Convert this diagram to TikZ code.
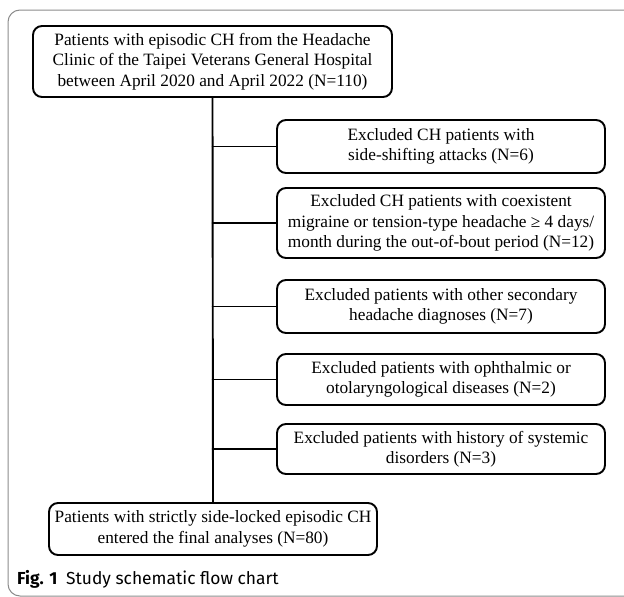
\documentclass[tikz,border=0pt]{standalone}
\usepackage{fontspec}
\setmainfont{Liberation Serif}
\newfontfamily\capfont{Fira Sans}
\usetikzlibrary{positioning}

\begin{document}
\begin{tikzpicture}[x=1pt, y=-1pt, line cap=round, line join=round,
    box/.style={draw, line width=1.9pt, rounded corners=9pt, align=center,
      inner sep=0pt, font=\fontsize{17.3}{20.5}\selectfont},
    link/.style={line width=1.9pt}]
  \useasboundingbox (0,0) rectangle (624,597);
  % outer figure frame
  \draw[black!45, line width=1pt, rounded corners=12pt] (8,10) rectangle (700,596);

  \node[box, minimum width=359pt, minimum height=71pt] (top) at (212.5,61.5)
    {Patients with episodic CH from the Headache\\Clinic of the Taipei Veterans General Hospital\\between April 2020 and April 2022 (N=110)};

  % Excluded boxes: centre y, height, label
  \def\exy#1{\ifcase#1 0\or 146.5\or 223\or 306.5\or 379.5\or 449\fi}
  \def\exh#1{\ifcase#1 0\or 53\or 70\or 53\or 51\or 50\fi}
  \def\exlabel#1{\ifcase#1 \or Excluded CH patients with\\side-shifting attacks (N=6)%
    \or Excluded CH patients with coexistent\\migraine or tension-type headache ≥ 4 days/\\month during the out-of-bout period (N=12)%
    \or Excluded patients with other secondary\\headache diagnoses (N=7)%
    \or Excluded patients with ophthalmic or\\otolaryngological diseases (N=2)%
    \or Excluded patients with history of systemic\\disorders (N=3)\fi}

  \foreach \i in {1,...,5}{
    \pgfmathsetmacro{\yy}{\exy{\i}}
    \pgfmathsetmacro{\hh}{\exh{\i}}
    \node[box, minimum width=328pt, minimum height=\hh pt] (ex\i) at (441,\yy) {\exlabel{\i}};
  }

  \node[box, minimum width=328pt, minimum height=52pt] (bot) at (213,529)
    {Patients with strictly side-locked episodic CH\\entered the final analyses (N=80)};

  \draw[link] (top.south) -- (bot.north);
  \foreach \i in {1,...,5}
    \draw[link] (top.south |- ex\i.west) -- (ex\i.west);

  \node[anchor=base west, inner sep=0pt, font=\capfont\fontsize{17.4}{20}\selectfont] (cap) at (17,584)
    {\textbf{Fig. 1}\hspace{0.5em}Study schematic flow chart};
\end{tikzpicture}
\end{document}
